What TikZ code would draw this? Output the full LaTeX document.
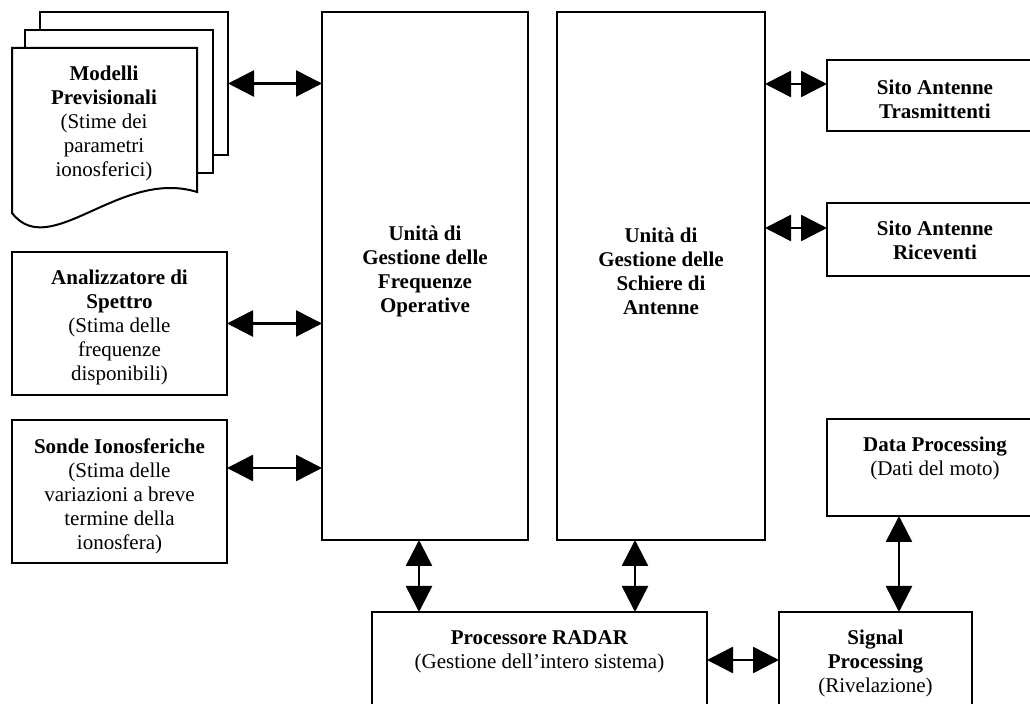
\documentclass[tikz,border=0pt]{standalone}
\usepackage{fontspec}
\setmainfont{Liberation Serif}
\usepackage{tikz}
\usetikzlibrary{arrows.meta,calc,positioning,fit}

\begin{document}
\begin{tikzpicture}[x=0.5pt, y=-0.5pt, every node/.style={font=\fontsize{10.5}{12}\selectfont},
  blocco/.style={draw,line width=1pt,inner sep=0pt,outer sep=0pt},
  testo/.style={align=center,inner sep=0pt},
  freccia/.style={{Triangle[length=13pt,width=13pt]}-{Triangle[length=13pt,width=13pt]},line width=1.3pt}]
\path[use as bounding box,clip] (0,0) rectangle (1030,704);
% pila di fogli
\node[blocco,fit={(40,12) (228,155)}] (m3) {};
\node[blocco,fill=white,fit={(25,30) (213,173)}] (m2) {};
\draw[line width=1pt,fill=white] (12,48) -- (197,48) -- (197,192)
  .. controls (120,168) and (50,262) .. (12,213) -- cycle;
\node[testo,anchor=north] (m1) at (104,66) {\textbf{Modelli}\\\textbf{Previsionali}\\(Stime dei\\parametri\\ionosferici)};
% blocchi
\node[blocco,fit={(322,12) (528,540)}] (freq) {};
\node[blocco,fit={(557,12) (765,540)}] (schiere) {};
\node[blocco,fit={(12,252) (227,395)}] (analiz) {};
\node[blocco,fit={(12,420) (227,563)}] (sonde) {};
\node[blocco,fit={(827,60) (1043,131)}] (trasm) {};
\node[blocco,fit={(827,203) (1043,276)}] (ricev) {};
\node[blocco,fit={(827,419) (1043,516)}] (datap) {};
\node[blocco,fit={(372,612) (707,720)}] (radar) {};
\node[blocco,fit={(779,612) (972,720)}] (signal) {};
% testi
\node[testo,below=107pt of freq.north] (freq-t) {\textbf{Unità di}\\\textbf{Gestione delle}\\\textbf{Frequenze}\\\textbf{Operative}};
\node[testo,below=108pt of schiere.north] (schiere-t) {\textbf{Unità di}\\\textbf{Gestione delle}\\\textbf{Schiere di}\\\textbf{Antenne}};
\node[testo,below=9pt of analiz.north] (analiz-t) {\textbf{Analizzatore di}\\\textbf{Spettro}\\(Stima delle\\frequenze\\disponibili)};
\node[testo,below=9pt of sonde.north] (sonde-t) {\textbf{Sonde Ionosferiche}\\(Stima delle\\variazioni a breve\\termine della\\ionosfera)};
\node[testo,below=10pt of trasm.north] (trasm-t) {\textbf{Sito Antenne}\\\textbf{Trasmittenti}};
\node[testo,below=9pt of ricev.north] (ricev-t) {\textbf{Sito Antenne}\\\textbf{Riceventi}};
\node[testo,below=9pt of datap.north] (datap-t) {\textbf{Data Processing}\\(Dati del moto)};
\node[testo,below=9pt of radar.north] (radar-t) {\textbf{Processore RADAR}\\(Gestione dell’intero sistema)};
\node[testo,below=9pt of signal.north] (signal-t) {\textbf{Signal}\\\textbf{Processing}\\(Rivelazione)};
% frecce
\coordinate (s1) at ($(sonde.north east)+(0,48)$);
\coordinate (t1) at ($(trasm.north west)+(0,24)$);
\coordinate (r1) at ($(ricev.north west)+(0,25)$);
\coordinate (p1) at ($(radar.north west)+(47,0)$);
\coordinate (p2) at ($(radar.north west)+(263,0)$);
\coordinate (p3) at ($(radar.north east)+(0,48)$);
\coordinate (p4) at ($(signal.north west)+(120,0)$);
\foreach \p in {m3.east, analiz.east, s1} \draw[freccia] (\p) -- (\p -| freq.west);
\foreach \p in {t1, r1} \draw[freccia] (\p -| schiere.east) -- (\p);
\foreach \p/\q in {p1/freq, p2/schiere, p4/datap} \draw[freccia] (\p |- \q.south) -- (\p);
\draw[freccia] (p3) -- (p3 -| signal.west);
\end{tikzpicture}
\end{document}
